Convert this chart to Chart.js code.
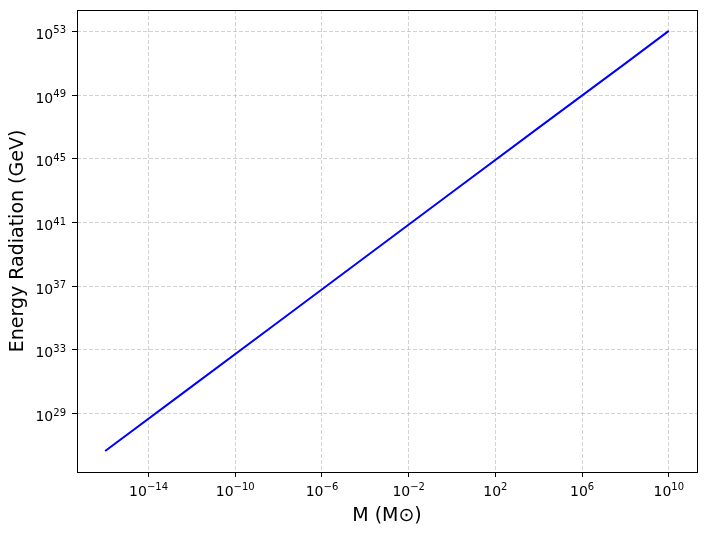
<!DOCTYPE html>
<html>
<head>
<meta charset="utf-8">
<script src="https://cdn.jsdelivr.net/npm/chart.js@4.4.1/dist/chart.umd.min.js"></script>
<style>
  html, body { margin: 0; padding: 0; background: #fff; }
  #wrap { width: 705px; height: 537px; }
</style>
</head>
<body>
<div id="wrap"><canvas id="energyChart"></canvas></div>
<script>
// mass in solar masses, energy in GeV
var massValues = [1e-16, 1e-12, 1e-8, 1e-4, 1, 1e4, 1e8, 1e10];
var energyValues = [4.5e26, 5.1e30, 5.9e34, 6.8e38, 7.9e42, 9.1e46, 1.0e51, 1.1e53];

var xTickExps = [-14, -10, -6, -2, 2, 6, 10];
var yTickExps = [29, 33, 37, 41, 45, 49, 53];

var fontFamily = "'DejaVu Sans', sans-serif";

function supText(n) {
    return String(n).replace('-', '\u2212');
}

// draws the 10^n labels and the box around the plot
var axesPlugin = {
    id: 'axesPlugin',
    afterDraw: function(chart) {
        var ctx = chart.ctx;
        var area = chart.chartArea;
        ctx.save();
        ctx.strokeStyle = '#000';
        ctx.lineWidth = 1;
        ctx.strokeRect(Math.round(area.left) + 0.5, Math.round(area.top) + 0.5,
            Math.round(area.right - area.left), Math.round(area.bottom - area.top));

        ctx.fillStyle = '#000';
        ctx.textBaseline = 'alphabetic';
        var baseFont = '14px ' + fontFamily;
        var expFont = '10px ' + fontFamily;

        var xs = chart.scales.x;
        xTickExps.forEach(function(e) {
            var px = xs.getPixelForValue(Math.pow(10, e));
            ctx.font = baseFont;
            var w1 = ctx.measureText('10').width;
            ctx.font = expFont;
            var w2 = ctx.measureText(supText(e)).width;
            var x0 = px - (w1 + w2) / 2;
            ctx.textAlign = 'left';
            ctx.font = baseFont;
            ctx.fillText('10', x0, area.bottom + 24);
            ctx.font = expFont;
            ctx.fillText(supText(e), x0 + w1, area.bottom + 18);
        });

        var ys = chart.scales.y;
        yTickExps.forEach(function(e) {
            var py = ys.getPixelForValue(Math.pow(10, e));
            ctx.font = expFont;
            var w2 = ctx.measureText(supText(e)).width;
            var right = area.left - 11;
            ctx.textAlign = 'right';
            ctx.fillText(supText(e), right, py + 2);
            ctx.font = baseFont;
            ctx.fillText('10', right - w2, py + 7.5);
        });
        ctx.restore();
    }
};

var gridStyle = {
    color: 'rgba(176,176,176,0.8)',
    lineWidth: 0.7,
    drawTicks: true,
    tickLength: 5,
    tickColor: '#000',
    tickWidth: 1,
    tickBorderDash: []
};

var borderStyle = { display: false, dash: [4, 2] };

var ctx = document.getElementById('energyChart').getContext('2d');

new Chart(ctx, {
    type: 'scatter',
    data: {
        datasets: [{
            data: massValues.map(function(m, i) { return { x: m, y: energyValues[i] }; }),
            showLine: true,
            borderColor: '#0000ff',
            borderWidth: 2,
            pointRadius: 0,
            fill: false
        }]
    },
    options: {
        responsive: true,
        maintainAspectRatio: false,
        animation: false,
        layout: { padding: { left: 0, right: 8, top: 10, bottom: 0 } },
        plugins: {
            legend: { display: false },
            tooltip: { enabled: false }
        },
        scales: {
            x: {
                type: 'logarithmic',
                min: Math.pow(10, -17.3),
                max: Math.pow(10, 11.3),
                border: borderStyle,
                grid: gridStyle,
                ticks: { display: false },
                afterBuildTicks: function(scale) {
                    scale.ticks = xTickExps.map(function(e) { return { value: Math.pow(10, e) }; });
                },
                afterFit: function(scale) { scale.height = 65; },
                title: {
                    display: true,
                    text: 'M (M\u2299)',
                    color: '#000',
                    font: { family: fontFamily, size: 19 },
                    padding: { top: 10, bottom: 10 }
                }
            },
            y: {
                type: 'logarithmic',
                min: Math.pow(10, 25.33),
                max: Math.pow(10, 54.35),
                border: borderStyle,
                grid: gridStyle,
                ticks: { display: false },
                afterBuildTicks: function(scale) {
                    scale.ticks = yTickExps.map(function(e) { return { value: Math.pow(10, e) }; });
                },
                afterFit: function(scale) { scale.width = 77; },
                title: {
                    display: true,
                    text: 'Energy Radiation (GeV)',
                    color: '#000',
                    font: { family: fontFamily, size: 19 },
                    padding: { top: 7, bottom: 7 }
                }
            }
        }
    },
    plugins: [axesPlugin]
});
</script>
</body>
</html>
